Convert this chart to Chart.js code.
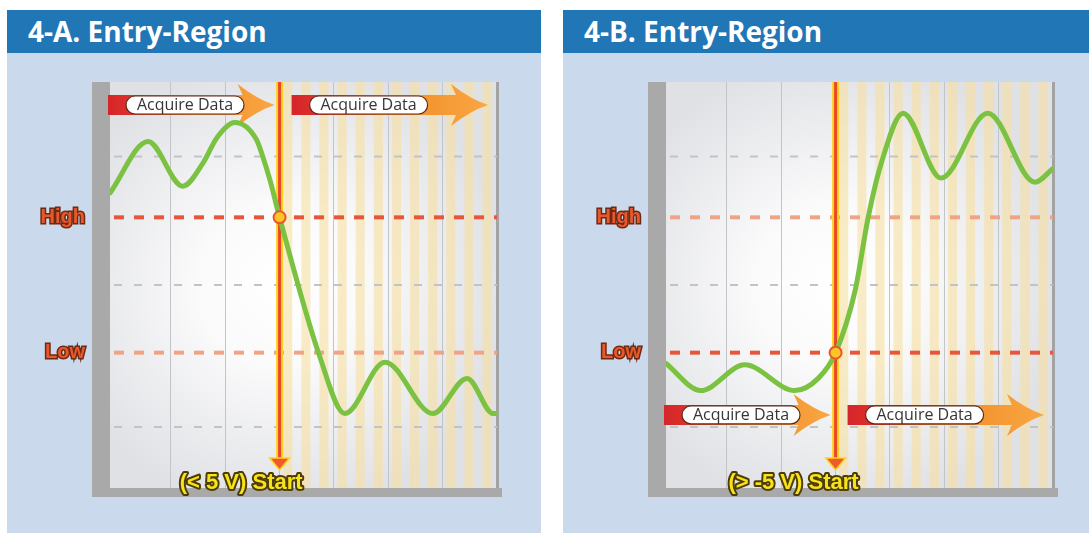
<!DOCTYPE html>
<html>
<head>
<meta charset="utf-8">
<script src="https://cdn.jsdelivr.net/npm/chart.js@4.4.1/dist/chart.umd.min.js"></script>
<style>
html,body{margin:0;padding:0;background:#fff;width:1089px;height:533px;overflow:hidden;}
.panel{position:absolute;top:10px;width:534px;height:523px;background:#cbd9ec;}
.panel h2{margin:0;height:43px;background:#2176b6;color:#fff;font:bold 28px 'Open Sans',sans-serif;line-height:43px;padding-left:21px;overflow:hidden;}
.panel canvas{display:block;}
#pa{left:7px}
#pb{left:563px}
</style>
</head>
<body>
<div class="panel" id="pa"><h2>4-A. Entry-Region</h2><canvas id="chartA" width="534" height="480"></canvas></div>
<div class="panel" id="pb"><h2>4-B. Entry-Region</h2><canvas id="chartB" width="534" height="480"></canvas></div>
<script>
// time in screen divisions, signal in volts
const LEVEL_VALUES = [5, -5];
const LEVEL_NAMES  = ['High', 'Low'];
const REF_LEVELS   = [9.5, 0, -10.5];
const DIVISIONS    = [1, 2, 3, 4, 5, 6];
const SAMPLE_STEP  = 1 / 3;
const TRIG_T       = 3;

// 4-A : falling through High
const A_T = [-0.12, 0.58, 1.22, 1.59, 1.85, 2.18, 2.58, 2.69, 2.82, 3.0, 3.74, 4.2, 4.94, 5.82, 6.45, 6.93, 7.0];
const A_V = [6.8, 10.6, 7.3, 9.0, 10.9, 12.0, 10.7, 9.5, 7.8, 5.0, -5.3, -9.5, -5.7, -9.5, -6.9, -9.5, -9.5];
// 4-B : rising through Low
const B_T = [-0.12, 0.52, 1.33, 2.25, 2.68, 3.0, 3.36, 3.6, 3.84, 4.24, 4.94, 5.8, 6.67, 7.0];
const B_V = [-5.8, -7.8, -5.9, -7.8, -6.9, -5.0, -0.4, 5.0, 9.0, 12.7, 7.9, 12.7, 7.6, 8.6];

const PANELS = [
  { id:'chartA', t:A_T, v:A_V, trigLevel:5,  acquireAt:13.3, label:'(< 5 V) Start' },
  { id:'chartB', t:B_T, v:B_V, trigLevel:-5, acquireAt:-9.6, label:'(> -5 V) Start' }
];

function dashLine(ctx, x0, x1, yy, color, w, dash) {
  ctx.save();
  ctx.strokeStyle = color; ctx.lineWidth = w; ctx.setLineDash(dash);
  ctx.beginPath(); ctx.moveTo(x0, yy); ctx.lineTo(x1, yy); ctx.stroke();
  ctx.restore();
}

function acquireArrow(ctx, x0, x1, yc) {
  const xh = x1 - 32;
  const g = ctx.createLinearGradient(x0, 0, x1, 0);
  g.addColorStop(0, '#d4262b'); g.addColorStop(0.12, '#dc2f2a');
  g.addColorStop(0.5, '#f08a24'); g.addColorStop(1, '#f9a744');
  ctx.save();
  ctx.fillStyle = g;
  ctx.beginPath();
  ctx.moveTo(x0, yc - 10);
  ctx.lineTo(xh, yc - 10);
  ctx.lineTo(xh - 5, yc - 21);
  ctx.quadraticCurveTo(xh + 14, yc - 6, x1, yc);
  ctx.quadraticCurveTo(xh + 14, yc + 6, xh - 5, yc + 21);
  ctx.lineTo(xh, yc + 10);
  ctx.lineTo(x0, yc + 10);
  ctx.closePath();
  ctx.fill();
  // pill
  const px = x0 + 18, pw = 118, ph = 18, py = yc - 9;
  ctx.beginPath();
  ctx.roundRect(px, py, pw, ph, 9);
  ctx.fillStyle = '#fff'; ctx.fill();
  ctx.lineWidth = 1.2; ctx.strokeStyle = '#5a2a1c'; ctx.stroke();
  ctx.fillStyle = '#363636';
  ctx.font = '16px "Open Sans"';
  ctx.textAlign = 'center'; ctx.textBaseline = 'middle';
  ctx.fillText('Acquire Data', px + pw / 2, yc + 0.5);
  ctx.restore();
}

const scopeDecor = {
  id: 'scopeDecor',
  beforeDraw(chart, args, o) {
    const {ctx, chartArea:a, scales:{x, y}} = chart;
    const tx = x.getPixelForValue(o.trigT);
    ctx.save();
    // frame
    ctx.fillStyle = '#a9a9a9';
    ctx.fillRect(a.left - 18, a.top, 18, a.bottom - a.top + 9);
    ctx.fillRect(a.left - 18, a.bottom, a.right - a.left + 23, 9);
    // screen
    ctx.fillStyle = '#e0e1e5';
    ctx.fillRect(a.left, a.top, a.width, a.height);
    const cy = y.getPixelForValue(0);
    const g = ctx.createRadialGradient(tx, cy, 0, tx, cy, 230);
    g.addColorStop(0, 'rgba(255,255,255,1)');
    g.addColorStop(0.35, 'rgba(255,255,255,0.85)');
    g.addColorStop(1, 'rgba(255,255,255,0)');
    ctx.fillStyle = g;
    ctx.fillRect(a.left, a.top, a.width, a.height);
    // sample stripes after the trigger
    ctx.fillStyle = 'rgba(247,224,160,0.6)';
    for (let u = o.trigT + SAMPLE_STEP * 0.2; u < x.max; u += SAMPLE_STEP) {
      const p0 = x.getPixelForValue(u);
      const p1 = Math.min(x.getPixelForValue(u + SAMPLE_STEP * 0.5), a.right);
      ctx.fillRect(p0, a.top, p1 - p0, a.height);
    }
    ctx.fillStyle = '#a3a3a3';
    ctx.fillRect(a.right - 1, a.top, 3, a.height);
    ctx.restore();
  },
  beforeDatasetsDraw(chart, args, o) {
    const {ctx, chartArea:a, scales:{x, y}} = chart;
    const tx = x.getPixelForValue(o.trigT);
    REF_LEVELS.forEach(v => dashLine(ctx, a.left + 4, a.right, y.getPixelForValue(v), '#c2c3c7', 2, [8, 12]));
    LEVEL_VALUES.forEach(v => {
      const strong = v === o.trigLevel;
      dashLine(ctx, a.left + 4, a.right, y.getPixelForValue(v), strong ? '#e8553a' : '#efa387', 4, [10, 10]);
    });
    const ay = y.getPixelForValue(o.acquireAt);
    acquireArrow(ctx, a.left - 2, tx - 5, ay);
    acquireArrow(ctx, tx + 12, a.right - 9, ay);
    // trigger line
    const base = a.bottom - 30;
    ctx.save();
    ctx.lineCap = 'butt';
    ctx.strokeStyle = '#ffd21f'; ctx.lineWidth = 7;
    ctx.beginPath(); ctx.moveTo(tx, a.top); ctx.lineTo(tx, base); ctx.stroke();
    ctx.strokeStyle = '#e9462b'; ctx.lineWidth = 3;
    ctx.beginPath(); ctx.moveTo(tx, a.top); ctx.lineTo(tx, base); ctx.stroke();
    ctx.restore();
  },
  afterDatasetsDraw(chart, args, o) {
    const {ctx, chartArea:a, scales:{x}} = chart;
    const tx = x.getPixelForValue(o.trigT);
    const base = a.bottom - 30, tip = a.bottom - 18;
    ctx.save();
    ctx.beginPath();
    ctx.moveTo(tx - 10, base); ctx.lineTo(tx + 10, base); ctx.lineTo(tx, tip); ctx.closePath();
    ctx.fillStyle = '#ee5a2b'; ctx.fill();
    ctx.strokeStyle = '#ffd21f'; ctx.lineWidth = 1.5; ctx.stroke();
    ctx.font = 'bold 22px "Liberation Sans"';
    ctx.textAlign = 'right'; ctx.textBaseline = 'middle';
    ctx.lineJoin = 'round';
    ctx.strokeStyle = '#4b3d05'; ctx.lineWidth = 4;
    ctx.strokeText(o.label, tx + 23, a.bottom - 5);
    ctx.fillStyle = '#f7e21b';
    ctx.fillText(o.label, tx + 23, a.bottom - 5);
    ctx.restore();
  }
};

PANELS.forEach(p => {
  new Chart(document.getElementById(p.id), {
    type: 'line',
    data: {
      datasets: [
        { data: [{ x: TRIG_T, y: p.trigLevel }], order: 0, showLine: false,
          pointRadius: 6, pointBackgroundColor: '#fdc426', pointBorderColor: '#e8552d', pointBorderWidth: 2 },
        { data: p.t.map((t, i) => ({ x: t, y: p.v[i] })), order: 1,
          borderColor: '#7cc242', borderWidth: 5, pointRadius: 0,
          cubicInterpolationMode: 'monotone', borderCapStyle: 'round', borderJoinStyle: 'round' }
      ]
    },
    options: {
      responsive: false, animation: false, events: [],
      layout: { padding: { left: 0, right: 44, top: 29, bottom: 45 } },
      plugins: {
        legend: { display: false }, tooltip: { enabled: false },
        scopeDecor: { trigT: TRIG_T, trigLevel: p.trigLevel, acquireAt: p.acquireAt, label: p.label }
      },
      scales: {
        x: { type: 'linear', min: -0.12, max: 7,
             afterBuildTicks: s => { s.ticks = DIVISIONS.map(v => ({ value: v })); },
             afterFit: s => { s.height = 0; s.paddingLeft = 0; s.paddingRight = 0; },
             grid: { color: '#c3c4c8', lineWidth: 1, drawTicks: false },
             border: { display: false }, ticks: { display: false } },
        y: { min: -15, max: 15,
             afterBuildTicks: s => { s.ticks = LEVEL_VALUES.map(v => ({ value: v })); },
             afterFit: s => { s.width = 103; s.paddingTop = 0; s.paddingBottom = 0; },
             grid: { display: false, drawTicks: false }, border: { display: false },
             ticks: { callback: v => LEVEL_NAMES[LEVEL_VALUES.indexOf(v)],
                      color: '#e9582b', textStrokeColor: '#6a2a14', textStrokeWidth: 3, padding: 25,
                      font: { family: 'Liberation Sans', weight: 'bold', size: 20 } } }
      }
    },
    plugins: [scopeDecor]
  });
});
</script>
</body>
</html>
